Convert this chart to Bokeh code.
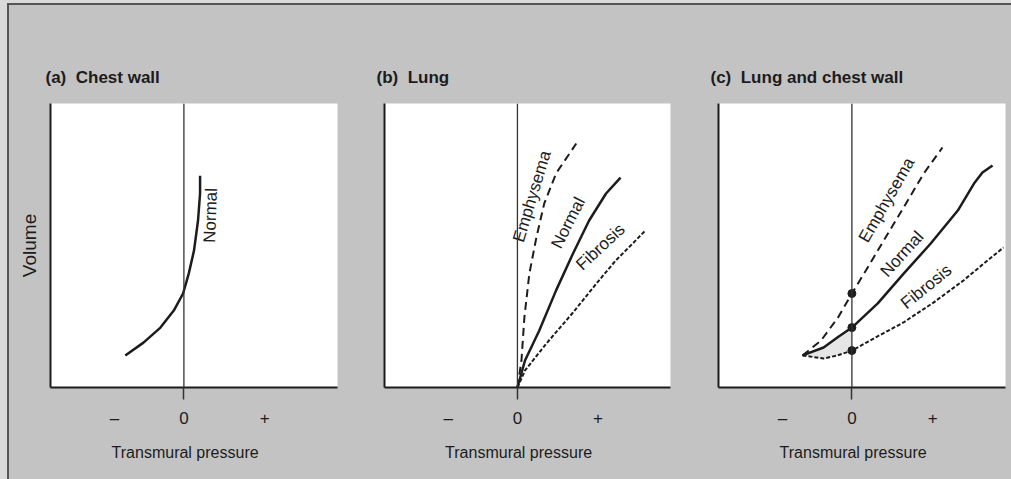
from bokeh.plotting import figure
from bokeh.layouts import row
from bokeh.models import Range1d, FixedTicker, Span
from bokeh.core.properties import value
from bokeh.embed import file_html
from bokeh.resources import INLINE

# Transmural pressure axis (arbitrary units, 0 = no pressure difference)
pressure_ticks = [-0.86, 0, 1]
pressure_tick_labels = ["\u2013", "0", "+"]

# (a) Chest wall: relative volume vs transmural pressure
chest_p = [-0.725, -0.50, -0.29, -0.125, -0.01, 0.06, 0.125, 0.175, 0.20, 0.20]
chest_v = [0.113, 0.158, 0.211, 0.271, 0.331, 0.401, 0.482, 0.588, 0.683, 0.746]

# (b) Lung
lung_emph_p = [0.0, 0.05, 0.086, 0.148, 0.235, 0.333, 0.48, 0.63, 0.73]
lung_emph_v = [0.0, 0.095, 0.246, 0.401, 0.528, 0.648, 0.754, 0.817, 0.859]
lung_norm_p = [0.0, 0.094, 0.27, 0.48, 0.69, 0.89, 1.10, 1.28]
lung_norm_v = [0.0, 0.095, 0.20, 0.342, 0.472, 0.588, 0.683, 0.739]
lung_fib_p = [0.0, 0.094, 0.36, 0.69, 0.98, 1.22, 1.43, 1.59]
lung_fib_v = [0.0, 0.06, 0.155, 0.264, 0.366, 0.447, 0.507, 0.553]

# (c) Lung and chest wall together
both_emph_p = [-0.611, -0.383, -0.173, 0.0, 0.173, 0.395, 0.64, 0.89, 1.12]
both_emph_v = [0.113, 0.165, 0.246, 0.331, 0.412, 0.518, 0.634, 0.754, 0.845]
both_norm_p = [-0.611, -0.35, -0.18, 0.0, 0.32, 0.64, 0.975, 1.31, 1.51, 1.615, 1.74]
both_norm_v = [0.113, 0.141, 0.176, 0.211, 0.296, 0.401, 0.507, 0.623, 0.718, 0.757, 0.782]
both_fib_p = [-0.611, -0.35, -0.18, 0.0, 0.317, 0.638, 1.009, 1.38, 1.677, 1.875]
both_fib_v = [0.113, 0.102, 0.113, 0.130, 0.180, 0.229, 0.299, 0.377, 0.447, 0.493]

# resting volumes (transmural pressure 0)
rest_v = [0.331, 0.211, 0.130]

GRAY = "#c3c3c3"
INK = "#1c1c1c"
FONT = "Liberation Sans"
NBSP = "\u00a0"


def panel(title, width, left, right, offset, ylabel=None):
    p = figure(width=width, height=474,
               x_range=Range1d(-1.65, 1.9), y_range=Range1d(0, 1),
               output_backend="svg", toolbar_location=None, title=title,
               min_border_left=left, min_border_right=right,
               min_border_top=98, min_border_bottom=92,
               background_fill_color="white", border_fill_color=GRAY,
               outline_line_color=None)
    p.grid.visible = False

    t = p.title
    t.align = "left"
    t.offset = offset
    t.standoff = 34
    t.text_font = FONT
    t.text_font_size = "17px"
    t.text_font_style = "bold"
    t.text_color = INK

    xa = p.xaxis[0]
    xa.ticker = FixedTicker(ticks=pressure_ticks, minor_ticks=[0])
    xa.major_label_overrides = dict(zip(pressure_ticks, pressure_tick_labels))
    xa.major_tick_in = 0
    xa.major_tick_out = 0
    xa.minor_tick_in = 0
    xa.minor_tick_out = 12
    xa.minor_tick_line_color = "#333333"
    xa.minor_tick_line_width = 1.5
    xa.major_label_standoff = 9
    xa.major_label_text_font = FONT
    xa.major_label_text_font_size = "17px"
    xa.major_label_text_color = INK
    xa.axis_line_width = 2
    xa.axis_line_color = INK
    xa.axis_label = "Transmural pressure" + NBSP * 4
    xa.axis_label_standoff = 13
    xa.axis_label_text_font = FONT
    xa.axis_label_text_font_size = "16px"
    xa.axis_label_text_font_style = "normal"
    xa.axis_label_text_color = INK

    ya = p.yaxis[0]
    ya.ticker = FixedTicker(ticks=[])
    ya.major_label_text_font_size = "0px"
    ya.axis_line_width = 2
    ya.axis_line_color = INK
    if ylabel:
        ya.axis_label = ylabel
        ya.axis_label_standoff = 11
        ya.axis_label_text_font = FONT
        ya.axis_label_text_font_size = "19px"
        ya.axis_label_text_font_style = "normal"
        ya.axis_label_text_color = INK

    p.add_layout(Span(location=0, dimension="height", line_color="#333333", line_width=1.3))
    return p


def labels(p, xs, ys, texts, angles):
    p.text(x=xs, y=ys, text=texts, angle=angles, angle_units="deg",
           text_align="center", text_baseline="middle",
           text_font=value(FONT), text_font_size="17px", text_color=INK)


solid = dict(line_color=INK, line_width=2.5)
emph = dict(line_color=INK, line_width=2, line_dash="8 5")
fib = dict(line_color=INK, line_width=2, line_dash="4 2")

# (a)
pa = panel("(a)" + NBSP * 2 + "Chest wall", 336, 41, 8, -5, ylabel="Volume")
pa.line(chest_p, chest_v, **solid)
labels(pa, [0.33], [0.606], ["Normal"], [88])

# (b)
pb = panel("(b)" + NBSP * 2 + "Lung", 335, 39, 10, -8)
pb.line(lung_emph_p, lung_emph_v, **emph)
pb.line(lung_norm_p, lung_norm_v, **solid)
pb.line(lung_fib_p, lung_fib_v, **fib)
labels(pb, [0.18, 0.63, 1.03], [0.673, 0.58, 0.495],
       ["Emphysema", "Normal", "Fibrosis"], [73, 63, 43])

# (c)
pc = panel("(c)" + NBSP * 2 + "Lung and chest wall", 331, 38, 6, -8)
pc.varea(x=both_norm_p[:4], y1=both_fib_v[:4], y2=both_norm_v[:4], fill_color="#e6e6e6")
pc.line(both_emph_p, both_emph_v, **emph)
pc.line(both_norm_p, both_norm_v, **solid)
pc.line(both_fib_p, both_fib_v, **fib)
pc.scatter([0, 0, 0], rest_v, size=8, fill_color=INK, line_color=INK)
labels(pc, [0.43, 0.62, 0.92], [0.66, 0.47, 0.355],
       ["Emphysema", "Normal", "Fibrosis"], [60, 48, 39])

inner = row(pa, pb, pc, margin=(3, 0, 0, 7),
            styles={"border-top": "2px solid #555555", "border-left": "2px solid #555555",
                    "background-color": GRAY})
layout = row(inner, styles={"background-color": "#dadada"})

open("out.html", "w").write(file_html(layout, INLINE))
